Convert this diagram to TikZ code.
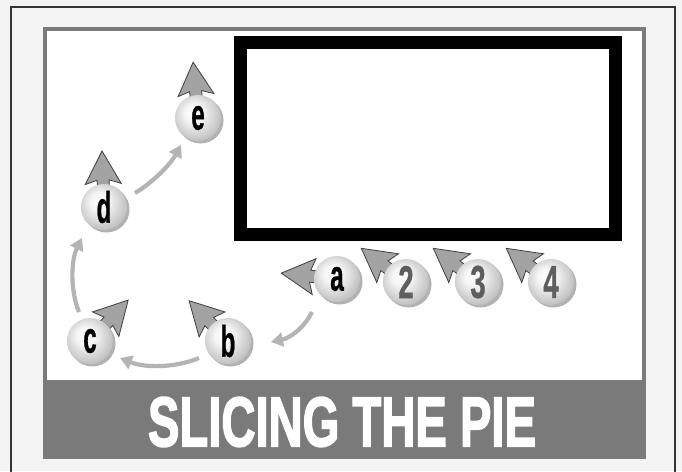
\documentclass[tikz,border=0pt]{standalone}
\usepackage{graphicx}
\usepackage{fontspec}
\setmainfont{Liberation Sans}
\newfontfamily\titlefont[FakeBold=2.5]{Liberation Sans Bold}
\newfontfamily\ballfont[FakeBold=1]{Liberation Sans Bold}
\usetikzlibrary{arrows.meta,calc}
\definecolor{bg}{HTML}{F3F3F3}
\definecolor{framegray}{HTML}{7A7A7A}
\definecolor{conngray}{HTML}{B4B4B4}
\definecolor{dirfill}{HTML}{A3A3A3}
\definecolor{digitgray}{HTML}{5E5E5E}
\pgfdeclareradialshading{myball}{\pgfpoint{-6bp}{7bp}}{%
  color(0bp)=(white); color(10bp)=(gray!8); color(24bp)=(gray!40);
  color(36bp)=(gray!68); color(44bp)=(black!62); color(50bp)=(black!78)}
\tikzset{
  ballnode/.style={circle, minimum size=46pt, inner sep=0pt, shading=myball},
  conn/.style={draw=conngray, line width=4.2pt, -{Triangle[length=12pt,width=14pt]}},
  dirstyle/.style={fill=dirfill, draw=black!75, line width=0.8pt, line join=miter},
  lettertxt/.style={text=black},
  digittxt/.style={text=digitgray},
}
\newcommand{\myletter}[1]{\scalebox{0.55}[1]{\fontsize{44}{44}\ballfont #1}}
\newcommand{\mydigit}[1]{\scalebox{0.6}[1]{\fontsize{46}{46}\ballfont #1}}
\newcommand{\dirarrow}[2]{%
  \begin{scope}[shift={(#1)}, rotate=#2]
    \path[dirstyle] (0,-6) -- (27,-6) -- (23,-18) -- (56,0) -- (23,18) -- (27,6) -- (0,6) -- cycle;
  \end{scope}}
\newcommand{\ballshadow}[1]{\fill[black!30] ($(#1)+(2.5,2.5)$) circle (23pt);}
\begin{document}
\begin{tikzpicture}[x=1pt,y=-1pt]
  \clip (0,0) rectangle (682,471);
  \fill[bg] (0,0) rectangle (682,471);
  \draw[black!80, line width=2.5pt] (11,7) rectangle (675,478);
  % inner frame
  \fill[framegray] (43,27) rectangle (646,459);
  \fill[white] (47,31) rectangle (642,380);
  % screen
  \draw[black, line width=13pt] (240.5,42.5) rectangle (615.5,234.5);
  % title
  \node[text=white, inner sep=0pt] (title) at (342,422) {\resizebox{388pt}{49pt}{\titlefont SLICING THE PIE}};
  % ball positions
  \coordinate (pa) at (337,279);
  \coordinate (pb) at (228,341);
  \coordinate (pc) at (90,341);
  \coordinate (pd) at (104,207);
  \coordinate (pe) at (198,118);
  \coordinate (p2) at (406,282);
  \coordinate (p3) at (478,282);
  \coordinate (p4) at (551,282);
  % direction arrows
  \dirarrow{pa}{174}
  \dirarrow{pb}{134}
  \dirarrow{pc}{47}
  \dirarrow{pd}{92}
  \dirarrow{pe}{95}
  \dirarrow{p2}{143}
  \dirarrow{p3}{143}
  \dirarrow{p4}{143}
  % shadows
  \ballshadow{pa}\ballshadow{pb}\ballshadow{pc}\ballshadow{pd}\ballshadow{pe}
  \ballshadow{p2}\ballshadow{p3}\ballshadow{p4}
  % balls
  \node[ballnode, lettertxt] (a) at (pa) {\myletter{a}};
  \node[ballnode, lettertxt] (b) at (pb) {\myletter{b}};
  \node[ballnode, lettertxt] (c) at (pc) {\myletter{c}};
  \node[ballnode, lettertxt] (d) at (pd) {\myletter{d}};
  \node[ballnode, lettertxt] (e) at (pe) {\myletter{e}};
  \node[ballnode, digittxt] (n2) at (p2) {\mydigit{2}};
  \node[ballnode, digittxt] (n3) at (p3) {\mydigit{3}};
  \node[ballnode, digittxt] (n4) at (p4) {\mydigit{4}};
  % connectors
  \draw[conn] ($(a)+(-25,33)$) .. controls ($(a)+(-33,49)$) and ($(b)+(62,-3)$) .. ($(b)+(43,1)$);
  \draw[conn] ($(b)+(-29,17)$) .. controls ($(b)+(-53,27)$) and ($(c)+(55,27)$) .. ($(c)+(30,17)$);
  \draw[conn] ($(c)+(-11,-29)$) .. controls ($(c)+(-20,-51)$) and ($(d)+(-33,53)$) .. ($(d)+(-22,31)$);
  \draw[conn] ($(d)+(31,-14)$) .. controls ($(d)+(48,-24)$) and ($(e)+(-28,47)$) .. ($(e)+(-17,27)$);
\end{tikzpicture}
\end{document}
